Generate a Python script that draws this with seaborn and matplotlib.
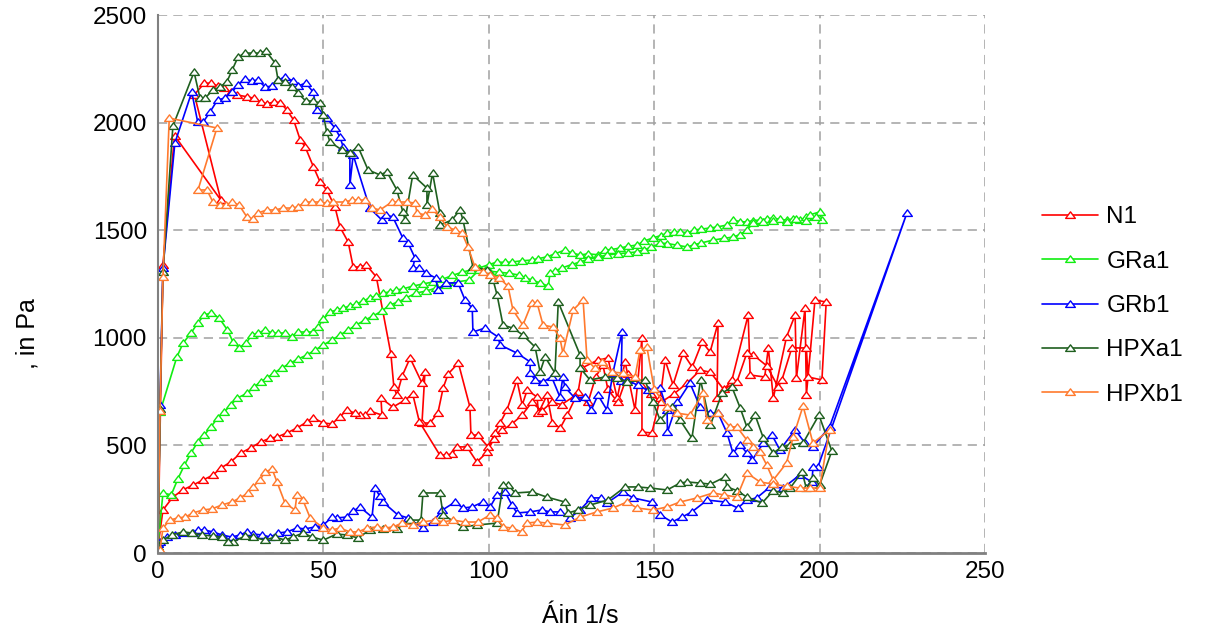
import matplotlib
matplotlib.use('Agg')
import matplotlib.pyplot as plt
import seaborn as sns
from matplotlib.path import Path
from matplotlib.ticker import MultipleLocator

# ---- N1 ----
n1_up_x = [0, 1.5, 5, 19, 11, 14, 16, 18, 20, 22, 24, 27, 29, 31, 33, 35, 37, 39, 41, 43,
           44.5, 47, 49, 51, 53.5, 55, 57.5, 59, 61, 63, 66, 70.4, 71.3, 72.2, 73.8, 76.2, 79.8, 80.7, 79.8, 82.2,
           84.6, 86.2, 87.7, 90.8, 94.3, 94.6, 96.7, 99.8, 101.9, 103.4, 105.5, 108.5, 110.1, 111.6, 114.6,
           115, 117.6, 119.2, 121.6, 123.7, 127, 128.2, 133, 136, 138.8, 141.2, 144.2, 146.3, 146.3, 149.3,
           151.8, 153.3, 155.7, 158.7, 161.5, 164.5, 166.9, 169.3, 169, 173.5, 178.4, 179, 183.4, 184.5, 186,
           190, 192.6, 193, 195.6, 196, 198.6, 202]
n1_up_y = [20, 1340, 1940, 1640, 2130, 2183, 2183, 2170, 2160, 2140, 2128, 2120, 2113, 2096, 2087, 2096, 2093, 2058, 2012, 1919,
           1887, 1794, 1724, 1687, 1608, 1515, 1445, 1329, 1329, 1338, 1283, 925, 771, 734, 822, 906, 790, 841, 604, 604,
           650, 767, 832, 883, 678, 548, 548, 493, 558, 604, 665, 804, 688, 757, 725,
           650, 734, 604, 581, 641, 748, 860, 897, 906, 720, 888, 665, 999, 562, 558,
           720, 897, 781, 929, 864, 981, 934, 1069, 720, 804, 1106, 827, 818, 953, 720,
           1004, 1106, 813, 1138, 734, 1176, 1166]
n1_down_x = [200.7, 196.5, 196, 191.6, 188.6, 187.5, 184, 180, 178, 175, 171, 167, 163.9, 160, 156,
             152, 149, 146, 142, 139, 136, 134.5, 132.3, 130, 126, 122, 119, 116, 113, 110,
             107, 104, 101.5, 99.5, 96.4, 93.4, 90.4, 88.9, 87, 85.2, 79, 77, 74.7, 71, 67.4,
             67.7, 64, 62.6, 61, 59.5, 57, 55, 52.5, 50, 47, 45, 42, 39, 36, 34,
             31, 28, 25, 22, 19, 16.6, 13.6, 10.6, 7.5, 4.5, 1.5, 0]
n1_down_y = [804, 818, 953, 953, 804, 771, 870, 920, 929, 795, 760, 840, 850, 790, 740,
             700, 740, 780, 830, 700, 760, 874, 818, 700, 730, 690, 700, 660, 700, 640,
             600, 570, 530, 469, 423, 493, 493, 460, 455, 455, 610, 739, 711, 678, 720,
             641, 660, 641, 641, 650, 665, 632, 600, 604, 627, 609, 581, 558, 539, 534,
             516, 488, 465, 423, 395, 362, 339, 316, 293, 260, 200, 30]

# ---- GRa1 ----
gra_up_x = [0, 0.6, 5.7, 7.6, 10, 12, 14, 16, 18.5, 21, 22.7, 24.5, 26.6, 28.4, 30.2, 32.4, 34.5, 36.3, 38.4, 40.5,
            42.3, 44.7, 46.9, 48.4, 50, 52, 54, 56, 58, 60, 62, 64, 66, 68, 70, 72, 74, 77, 80, 83,
            86, 89, 92, 94.5, 97, 100, 102.5, 105, 107, 110, 113, 115, 117.5, 120, 123, 125, 127.5, 130, 133, 135,
            137, 139.6, 142, 144.8, 147, 149.6, 152, 154, 156, 157.8, 160, 162, 164, 166.9, 169, 172, 173.8, 176, 178, 180,
            182, 184, 186, 188, 190, 192, 194, 196, 197, 200, 200.7]
gra_up_y = [30, 655, 911, 976, 1022, 1069, 1106, 1115, 1092, 1036, 980, 953, 976, 1013, 1022, 1036, 1022, 1022, 1022, 1004,
            1027, 1027, 1027, 1050, 1087, 1120, 1129, 1138, 1148, 1157, 1171, 1185, 1194, 1208, 1213, 1222, 1227, 1240, 1250, 1259,
            1272, 1290, 1305, 1315, 1324, 1340, 1352, 1350, 1352, 1358, 1361, 1368, 1376, 1390, 1408, 1395, 1385, 1390, 1386, 1408,
            1410, 1417, 1425, 1431, 1450, 1464, 1475, 1487, 1490, 1492, 1488, 1500, 1505, 1510, 1515, 1524, 1547, 1540, 1538, 1545,
            1547, 1552, 1557, 1550, 1547, 1552, 1547, 1560, 1571, 1585, 1547]
gra_down_x = [199, 196, 193, 190, 186, 183, 180, 178, 176, 173.8, 171, 167.8, 164, 162, 160, 157, 154, 151.8, 149, 147,
              144.8, 142, 139, 135.7, 133, 130, 127.5, 125, 122, 120, 118.5, 118, 115.5, 113, 111, 109, 106, 103, 100, 97,
              94, 90, 87, 84, 81, 78, 75, 72.5, 70, 67.7, 65, 62.6, 60, 57.5, 55, 52.6, 50, 47.5, 45, 42.3,
              40, 37.5, 35, 33, 31, 29, 27, 24, 22, 20, 18, 16, 14, 12, 10, 8, 6, 4, 1.5, 0]
gra_down_y = [1560, 1545, 1550, 1540, 1545, 1540, 1533, 1501, 1480, 1468, 1462, 1454, 1440, 1432, 1422, 1430, 1438, 1440, 1420, 1410,
              1399, 1395, 1390, 1385, 1375, 1365, 1352, 1340, 1324, 1310, 1301, 1240, 1255, 1268, 1280, 1292, 1300, 1305, 1310, 1315,
              1268, 1259, 1245, 1231, 1217, 1208, 1185, 1166, 1152, 1125, 1101, 1083, 1060, 1036, 1013, 990, 967, 943, 920, 901,
              883, 860, 836, 813, 795, 771, 743, 720, 688, 655, 627, 586, 548, 516, 465, 409, 344, 270, 279, 40]

# ---- GRb1 ----
grb_up_x = [0, 0.6, 1.5, 5.1, 10.2, 12, 13.7, 15.7, 18, 20.2, 22.3, 24.2, 26.3, 28.4, 30.2, 32.4, 34.5, 36.3, 38.4, 40.8,
            42.3, 44.7, 46.9, 48, 51, 53.5, 55, 56, 58, 58, 59, 64, 67.7, 69, 71, 74, 75.6, 77.7, 77, 79,
            81, 84, 84.6, 87, 90.7, 92.8, 95, 95.2, 98.8, 102.8, 103.4, 108.5, 112.5, 112.5, 114, 116.4, 119, 121.5, 122.4, 123,
            126, 129, 131, 133, 135.7, 137.5, 140.3, 140, 141.8, 145, 148, 151.8, 153.9, 154, 157, 160.8, 163.9, 167, 169.3, 172,
            173.8, 176, 178, 179.6, 183, 185.6, 188, 192.6, 195.6, 198, 203, 226.4]
grb_up_y = [40, 690, 1324, 1905, 2142, 2003, 2003, 2049, 2105, 2114, 2142, 2175, 2203, 2193, 2198, 2165, 2170, 2198, 2212, 2193,
            2170, 2184, 2142, 2058, 2021, 1975, 1933, 1887, 1859, 1710, 1850, 1603, 1547, 1571, 1561, 1464, 1440, 1371, 1324, 1324,
            1301, 1278, 1222, 1255, 1255, 1176, 1138, 1027, 1045, 1004, 967, 929, 888, 836, 804, 795, 818, 725, 818, 771,
            720, 725, 665, 734, 665, 836, 1027, 800, 804, 780, 757, 767, 665, 562, 700, 790, 678, 650, 650, 558,
            465, 502, 465, 432, 511, 548, 479, 572, 511, 493, 586, 1580]
grb_down_x = [199.5, 198, 197.7, 194, 189, 185, 181, 178, 175.3, 171.4, 166, 161.4, 158.4, 155.4, 151.8,
              149.3, 143.6, 140.6, 135.7, 134, 131, 127.6, 124.5, 121.5, 118.5, 116, 112.5, 108.5, 107, 104.9,
              102.5, 100.4, 98.3, 94.9, 92.2, 89.8, 86, 83, 80, 75.6, 72.5, 68, 67, 65.6, 64.7,
              61, 59, 57, 54, 52.6, 50, 47.5, 44.4, 42, 39, 36.3, 33.9, 31.4, 28.7, 26.9,
              24.8, 22.3, 19.3, 16.6, 14, 12, 10.6, 7.7, 5, 2.7, 0.6, 0]
grb_down_y = [400, 400, 330, 363, 302, 307, 256, 246, 209, 237, 246, 191, 167, 144, 177,
              237, 256, 284, 232, 256, 256, 200, 163, 191, 191, 200, 191, 186, 223, 284,
              270, 214, 237, 214, 209, 237, 200, 144, 116, 163, 177, 237, 265, 302, 167,
              214, 195, 167, 163, 167, 130, 121, 112, 116, 98, 93, 74, 84, 88, 98,
              84, 74, 84, 98, 107, 107, 93, 93, 84, 74, 51, 20]

# ---- HPXa1 ----
hpa_up_x = [0, 0.6, 1.5, 4.5, 10.9, 12.7, 14.2, 16.6, 18.7, 20.8, 22.4, 24.2, 26.3, 28.7, 30.8, 32.6, 35.4, 36.3, 38.4, 40.5,
            42.3, 44.7, 46.9, 49, 50, 51, 52, 55.6, 58, 60.5, 63.5, 67.1, 69.2, 72.2, 74, 74.7, 77, 81.3, 81.3, 83,
            85.2, 85.2, 88.8, 91.3, 92.2, 95.2, 99.5, 101.3, 102.5, 104.3, 107.3, 110.3, 114, 115.5, 117, 120, 121, 127.6, 127.6, 130.6,
            135, 138.8, 141.8, 147.2, 149.6, 151.8, 155.4, 157.8, 161.4, 164, 167, 170.5, 173.5, 176, 178, 180.5, 183, 186, 188.6, 191,
            195, 199.8, 203.7]
hpa_up_y = [30, 670, 1306, 1984, 2235, 2114, 2114, 2151, 2165, 2189, 2244, 2305, 2323, 2323, 2323, 2333, 2277, 2198, 2189, 2165,
            2137, 2100, 2100, 2091, 2035, 1956, 1910, 1873, 1860, 1887, 1780, 1757, 1771, 1687, 1585, 1547, 1757, 1696, 1617, 1766,
            1580, 1524, 1547, 1594, 1547, 1329, 1315, 1269, 1199, 1059, 1045, 1013, 957, 841, 911, 836, 1166, 920, 860, 804,
            818, 813, 795, 804, 702, 618, 678, 618, 534, 804, 595, 743, 771, 674, 586, 641, 534, 465, 493, 502,
            511, 641, 474]
hpa_down_x = [200, 198, 196, 194.7, 191, 189, 186, 182.6, 178, 175, 172, 171.4, 167, 163.9, 160,
              157.8, 153.9, 148.7, 145, 141.2, 136, 130.6, 127, 124, 123, 117.5, 113, 108, 105.8, 104.3,
              102.5, 96.4, 92.2, 86.2, 85.2, 80.1, 79.5, 76.2, 72.2, 68, 64, 60.5, 57, 54, 50,
              46.6, 43.8, 40.8, 38.4, 35.4, 32.3, 28.7, 26.3, 22.7, 21.1, 19.3, 16.6, 13.2, 10.2, 7.6,
              4.1, 1.5, 0]
hpa_down_y = [316, 349, 300, 377, 300, 279, 290, 232, 260, 290, 307, 353, 320, 325, 330,
              325, 293, 302, 307, 307, 246, 223, 200, 186, 237, 260, 284, 279, 316, 316,
              139, 130, 121, 177, 279, 279, 153, 153, 112, 112, 107, 70, 84, 88, 60,
              74, 93, 74, 60, 74, 60, 74, 79, 51, 51, 74, 79, 84, 93, 98,
              84, 60, 20]

# ---- HPXb1 ----
hpb_up_x = [0, 0.6, 1.5, 3.4, 17.8, 12.1, 14.8, 16.6, 18.7, 20.6, 22.3, 24.5, 26.9, 28.7, 30.2, 32.9, 35.4, 37.8, 40.5, 42.3,
            44.4, 46.6, 49, 51, 52.9, 56.5, 58.6, 60.5, 62.6, 64.7, 67.1, 70.7, 72.6, 75.3, 77.7, 78.3, 80.7, 82.8, 85.2, 87.4,
            89.8, 91.9, 93.7, 95.8, 98.3, 100.4, 103, 105.8, 107.3, 110.3, 113, 114.6, 116.4, 119.4, 121.5, 122.4, 125.5, 128.5, 129.7, 132,
            134.2, 137.2, 140.6, 144.2, 145.7, 147.8, 150, 153.9, 156.9, 160.8, 164.8, 165.9, 169.3, 172.9, 175, 178, 180, 182, 184, 186,
            190, 192, 195, 198, 203]
hpb_up_y = [14, 660, 1283, 2021, 1975, 1687, 1687, 1631, 1617, 1617, 1631, 1617, 1561, 1552, 1580, 1594, 1594, 1603, 1603, 1608,
            1631, 1631, 1631, 1626, 1631, 1631, 1640, 1640, 1640, 1603, 1594, 1631, 1631, 1631, 1626, 1580, 1571, 1598, 1561, 1515,
            1501, 1487, 1422, 1329, 1306, 1292, 1280, 1240, 1129, 1059, 1162, 1162, 1059, 1050, 999, 929, 1129, 1176, 897, 860,
            888, 841, 836, 818, 943, 957, 760, 678, 650, 641, 743, 618, 650, 586, 586, 525, 493, 469, 409, 339,
            418, 539, 683, 511, 572]
hpb_down_x = [200, 197, 194, 190, 186, 182, 178, 175, 171, 167.8, 163, 157.8, 153.9, 149.6, 144.8,
              141.8, 137.5, 132.7, 127.6, 123, 117.5, 114.6, 111.4, 110, 107, 104.3, 102.5, 100.4, 96.7, 92.8,
              89.2, 86.2, 83.7, 80, 77, 73.8, 71, 68.6, 66.2, 63.2, 60.5, 58, 55, 52.6, 50,
              46, 43.8, 42, 41.4, 38.4, 36, 34.5, 32.3, 30.8, 28.7, 27.2, 24.8, 22.3, 19.3, 16.3,
              13.6, 10.6, 8.2, 6, 3.6, 1.5, 0.6]
hpb_down_y = [302, 302, 302, 310, 320, 330, 372, 260, 270, 279, 256, 237, 214, 200, 209,
              237, 209, 191, 167, 130, 139, 144, 139, 98, 116, 121, 163, 177, 144, 144,
              153, 144, 153, 144, 130, 139, 121, 116, 121, 116, 98, 98, 116, 107, 116,
              163, 246, 270, 200, 232, 330, 390, 376, 339, 307, 279, 256, 237, 223, 205,
              200, 186, 167, 163, 153, 116, 14]

names = ["N1", "GRa1", "GRb1", "HPXa1", "HPXb1"]
colors = ["#ff0000", "#11ee11", "#0000ff", "#1f5f1f", "#ff7a2e"]

series = [
    (n1_up_x + n1_down_x, n1_up_y + n1_down_y),
    (gra_up_x + gra_down_x, gra_up_y + gra_down_y),
    (grb_up_x + grb_down_x, grb_up_y + grb_down_y),
    (hpa_up_x + hpa_down_x, hpa_up_y + hpa_down_y),
    (hpb_up_x + hpb_down_x, hpb_up_y + hpb_down_y),
]

sns.set_theme(style="white")
plt.rcParams['font.family'] = ['Liberation Sans', 'DejaVu Sans']

fig = plt.figure(figsize=(12.05, 6.33), dpi=100)
ax = fig.add_axes([158 / 1205, 1 - 553 / 633, 827 / 1205, 538 / 633])

# flat open triangle marker
tri = Path([(0, 0.75), (-1, -0.6), (1, -0.6), (0, 0.75)],
           [Path.MOVETO, Path.LINETO, Path.LINETO, Path.CLOSEPOLY])

for name, (xs, ys), col in zip(names, series, colors):
    sns.lineplot(x=xs, y=ys, sort=False, estimator=None, color=col, linewidth=1.2,
                 marker=tri, markersize=7, markerfacecolor='white', markeredgecolor=col,
                 markeredgewidth=1.0, label=name, ax=ax)

ax.set_xlim(0, 250)
ax.set_ylim(0, 2500)
ax.xaxis.set_major_locator(MultipleLocator(50))
ax.xaxis.set_minor_locator(MultipleLocator(25))
ax.yaxis.set_major_locator(MultipleLocator(500))
ax.yaxis.set_minor_locator(MultipleLocator(250))

ax.set_axisbelow(True)
ax.grid(True, which='major', linestyle=(0, (6, 4)), color='#a0a0a0', linewidth=1.1)

for s in ['top', 'right']:
    ax.spines[s].set_visible(False)
ax.spines['left'].set_color('#808080')
ax.spines['left'].set_linewidth(1.5)
ax.spines['bottom'].set_color('#808080')
ax.spines['bottom'].set_linewidth(2)

ax.tick_params(axis='x', which='both', direction='in', color='#606060',
               labelsize=17.5, labelcolor='black', pad=6)
ax.tick_params(axis='y', which='both', direction='out', color='#606060',
               labelsize=17.5, labelcolor='black', pad=3)
ax.tick_params(which='major', length=5, width=1)
ax.tick_params(which='minor', length=4, width=1)

ax.set_xlabel("Áin 1/s", fontsize=18, color='black')
ax.set_ylabel(", in Pa", fontsize=18, color='black')
ax.xaxis.set_label_coords(0.511, -0.095)
ax.yaxis.set_label_coords(-0.143, 0.407)

leg = ax.legend(loc='center left', bbox_to_anchor=(1042 / 1205, 1 - 306 / 633),
                bbox_transform=fig.transFigure, frameon=False, fontsize=17.5,
                handlelength=2.3, handletextpad=0.35, labelspacing=0.92,
                borderpad=0, borderaxespad=0)
for t in leg.get_texts():
    t.set_color('black')

fig.savefig('out.png', dpi=100)
